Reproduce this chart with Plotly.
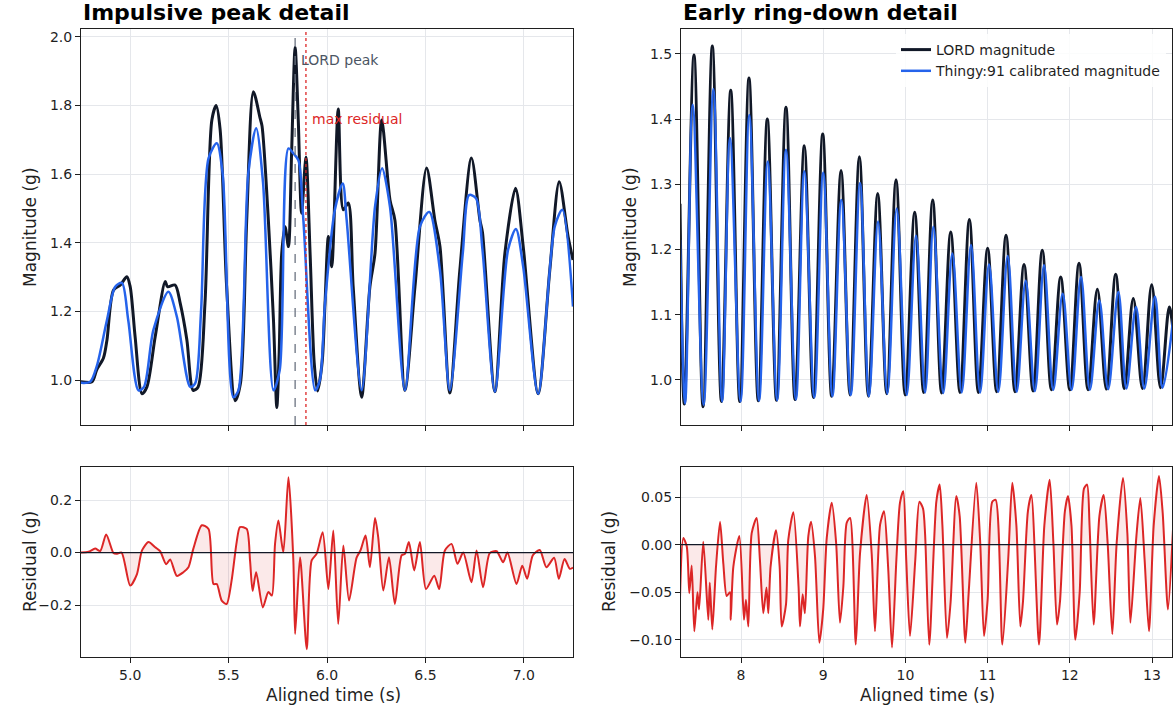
import plotly.graph_objects as go

# ---------------- data: impulsive peak detail (left) ----------------
lord_left_t = [4.746, 4.806, 4.83, 4.864, 4.882, 4.915, 4.95, 4.983, 5.0, 5.025, 5.06, 5.085, 5.127,
               5.178, 5.19, 5.228, 5.254, 5.288, 5.32, 5.345, 5.38, 5.415, 5.437, 5.457, 5.49, 5.533,
               5.56, 5.592, 5.626, 5.66, 5.67, 5.702, 5.728, 5.745, 5.757, 5.77, 5.787, 5.804, 5.82,
               5.838, 5.854, 5.871, 5.893, 5.914, 5.935, 5.952, 5.975, 5.99, 6.007, 6.024, 6.057, 6.083,
               6.108, 6.133, 6.176, 6.218, 6.244, 6.278, 6.32, 6.345, 6.396, 6.447, 6.506, 6.548, 6.574,
               6.624, 6.675, 6.734, 6.777, 6.79, 6.853, 6.904, 6.958, 6.997, 7.073, 7.132, 7.18, 7.225, 7.25]
lord_left_v = [0.995, 0.995, 1.03, 1.064, 1.117, 1.262, 1.277, 1.301, 1.272, 1.126, 0.96, 0.98, 1.126,
               1.287, 1.272, 1.277, 1.224, 1.117, 0.97, 0.98, 1.224, 1.758, 1.80, 1.73, 1.272, 0.94,
               0.99, 1.466, 1.84, 1.763, 1.74, 1.466, 1.175, 0.92, 1.08, 1.37, 1.447, 1.389, 1.66,
               1.97, 1.758, 1.486, 1.65, 1.37, 1.05, 0.968, 1.05, 1.224, 1.418, 1.33, 1.79, 1.496,
               1.516, 1.272, 0.95, 1.272, 1.37, 1.758, 1.525, 1.466, 0.97, 1.272, 1.618, 1.466, 1.389,
               0.962, 1.32, 1.647, 1.466, 1.43, 0.966, 1.37, 1.559, 1.389, 0.96, 1.32, 1.578, 1.418, 1.35]

thingy_left_t = [4.746, 4.797, 4.83, 4.882, 4.924, 4.958, 4.99, 5.042, 5.07, 5.118, 5.194, 5.237, 5.305,
                 5.33, 5.36, 5.398, 5.44, 5.47, 5.524, 5.55, 5.6, 5.64, 5.675, 5.728, 5.76, 5.804, 5.83,
                 5.855, 5.88, 5.94, 5.964, 5.99, 6.04, 6.08, 6.1, 6.176, 6.244, 6.28, 6.32, 6.396, 6.472,
                 6.52, 6.574, 6.624, 6.69, 6.722, 6.757, 6.79, 6.853, 6.92, 6.96, 6.997, 7.073, 7.157,
                 7.196, 7.25]
thingy_left_v = [0.992, 0.995, 1.04, 1.175, 1.272, 1.283, 1.175, 0.97, 0.98, 1.146, 1.257, 1.185, 0.98,
                 0.99, 1.2, 1.646, 1.69, 1.6, 0.95, 0.97, 1.602, 1.734, 1.575, 0.97, 1.03, 1.675, 1.66,
                 1.64, 1.466, 0.97, 1.0, 1.224, 1.496, 1.573, 1.466, 0.97, 1.505, 1.617, 1.505, 0.97, 1.447,
                 1.49, 1.32, 0.97, 1.37, 1.539, 1.53, 1.38, 0.966, 1.38, 1.44, 1.33, 0.96, 1.447,
                 1.496, 1.214]

resid_left_t = [4.746, 4.788, 4.822, 4.848, 4.878, 4.915, 4.93, 4.956, 5.0, 5.034, 5.06, 5.093, 5.127,
                5.152, 5.183, 5.203, 5.237, 5.27, 5.296, 5.321, 5.364, 5.398, 5.423, 5.44, 5.465, 5.49,
                5.515, 5.541, 5.558, 5.592, 5.609, 5.622, 5.64, 5.674, 5.702, 5.72, 5.736, 5.753, 5.778,
                5.804, 5.829, 5.838, 5.863, 5.897, 5.922, 5.947, 5.978, 6.007, 6.032, 6.057, 6.083, 6.112,
                6.15, 6.17, 6.196, 6.218, 6.244, 6.26, 6.286, 6.315, 6.345, 6.379, 6.396, 6.416, 6.443,
                6.472, 6.503, 6.545, 6.57, 6.599, 6.633, 6.663, 6.692, 6.734, 6.76, 6.793, 6.827, 6.862,
                6.895, 6.917, 6.963, 6.992, 7.017, 7.046, 7.081, 7.115, 7.154, 7.178, 7.207, 7.234, 7.25]
resid_left_v = [0.0, 0.003, 0.015, 0.006, 0.069, -0.002, -0.005, 0.0, -0.126, -0.083, 0.008, 0.04, 0.02,
                0.005, -0.045, -0.026, -0.089, -0.075, -0.056, 0.015, 0.104, 0.09, -0.12, -0.12, -0.183,
                -0.196, -0.108, 0.04, 0.097, 0.09, -0.031, -0.146, -0.075, -0.209, -0.15, -0.164, 0.033,
                0.122, 0.001, 0.287, -0.03, -0.31, -0.018, -0.368, -0.03, -0.005, 0.077, -0.139, 0.084,
                -0.272, 0.027, -0.183, -0.02, 0.008, 0.065, -0.056, 0.132, 0.06, -0.145, -0.018, -0.196,
                -0.011, -0.005, 0.04, -0.068, 0.04, -0.139, -0.088, -0.139, 0.008, 0.033, -0.043, 0.0,
                -0.113, 0.008, -0.132, -0.002, 0.005, -0.037, 0.0, -0.12, -0.05, -0.1, -0.01, 0.01,
                -0.056, -0.02, -0.1, -0.025, -0.062, -0.057]

lord_peak_t = 5.838
max_resid_t = 5.893

# ---------------- data: early ring-down detail (right) ----------------
lord_right_t = [7.258, 7.31, 7.428, 7.538, 7.651, 7.762, 7.875, 7.985, 8.097, 8.21, 8.32, 8.432, 8.547,
                8.657, 8.77, 8.88, 8.994, 9.103, 9.217, 9.327, 9.44, 9.55, 9.663, 9.773, 9.886, 9.997,
                10.113, 10.222, 10.332, 10.44, 10.551, 10.664, 10.778, 10.888, 11.0, 11.11, 11.224,
                11.333, 11.443, 11.553, 11.665, 11.776, 11.889, 12.0, 12.112, 12.222, 12.335, 12.445,
                12.558, 12.664, 12.772, 12.884, 12.996, 13.104, 13.21, 13.26]
lord_right_v = [1.27, 0.963, 1.498, 0.959, 1.512, 0.967, 1.444, 0.967, 1.463, 0.968, 1.40, 0.969, 1.418,
                0.970, 1.359, 0.973, 1.377, 0.975, 1.321, 0.977, 1.342, 0.975, 1.286, 0.979, 1.307, 0.977,
                1.257, 0.981, 1.276, 0.980, 1.227, 0.981, 1.246, 0.981, 1.202, 0.982, 1.222,
                0.982, 1.177, 0.983, 1.199, 0.985, 1.158, 0.985, 1.179, 0.985, 1.139, 0.986,
                1.162, 0.987, 1.125, 0.987, 1.146, 0.988, 1.112, 1.07]

thingy_right_t = [7.258, 7.32, 7.412, 7.545, 7.664, 7.77, 7.866, 7.995, 8.101, 8.22, 8.325, 8.44, 8.547,
                  8.668, 8.77, 8.892, 9.0, 9.112, 9.22, 9.335, 9.448, 9.557, 9.667, 9.78, 9.894, 10.016,
                  10.129, 10.24, 10.34, 10.46, 10.571, 10.685, 10.798, 10.908, 11.017, 11.13, 11.244,
                  11.353, 11.463, 11.575, 11.686, 11.798, 11.913, 12.022, 12.136, 12.244, 12.359, 12.466,
                  12.59, 12.688, 12.805, 12.906, 13.036, 13.128, 13.26]
thingy_right_v = [1.215, 0.964, 1.422, 0.962, 1.446, 0.967, 1.371, 0.967, 1.406, 0.968, 1.335, 0.969, 1.353,
                  0.970, 1.32, 0.973, 1.318, 0.975, 1.276, 0.977, 1.302, 0.975, 1.243, 0.979, 1.263, 0.977,
                  1.221, 0.981, 1.235, 0.980, 1.194, 0.981, 1.207, 0.981, 1.177, 0.982, 1.19,
                  0.982, 1.152, 0.983, 1.176, 0.985, 1.132, 0.985, 1.158, 0.985, 1.122, 0.986,
                  1.135, 0.987, 1.112, 0.987, 1.128, 0.988, 1.097]

resid_right_t = [7.258, 7.298, 7.34, 7.371, 7.4, 7.432, 7.47, 7.49, 7.541, 7.602, 7.62, 7.651, 7.696,
                 7.745, 7.785, 7.826, 7.866, 7.875, 7.907, 7.98, 8.036, 8.06, 8.089, 8.13, 8.19, 8.23,
                 8.271, 8.31, 8.332, 8.36, 8.426, 8.47, 8.495, 8.547, 8.575, 8.637, 8.7, 8.718, 8.75,
                 8.777, 8.819, 8.852, 8.9, 8.953, 9.0, 9.043, 9.104, 9.157, 9.204, 9.245, 9.286, 9.327,
                 9.396, 9.448, 9.529, 9.59, 9.63, 9.692, 9.74, 9.79, 9.837, 9.89, 9.934, 9.974, 10.01,
                 10.056, 10.12, 10.17, 10.214, 10.24, 10.29, 10.376, 10.417, 10.45, 10.506, 10.55, 10.619,
                 10.66, 10.729, 10.77, 10.862, 10.91, 10.956, 11.0, 11.057, 11.098, 11.179, 11.25, 11.3,
                 11.35, 11.398, 11.43, 11.49, 11.532, 11.625, 11.69, 11.755, 11.8, 11.844, 11.88, 11.94,
                 11.978, 12.02, 12.067, 12.12, 12.173, 12.21, 12.24, 12.29, 12.36, 12.412, 12.46, 12.517,
                 12.57, 12.647, 12.7, 12.737, 12.81, 12.858, 12.91, 12.963, 13.02, 13.085, 13.13, 13.194,
                 13.255]
resid_right_v = [-0.056, 0.007, -0.002, -0.051, -0.022, -0.091, -0.05, -0.068, 0.003, -0.079, -0.04, -0.089,
                 -0.023, 0.024, -0.02, -0.054, -0.05, -0.079, -0.023, 0.009, -0.079, -0.058, -0.086, 0.012,
                 0.028, -0.016, -0.072, -0.045, -0.072, -0.023, 0.015, -0.023, -0.086, -0.063, 0.005, 0.034,
                 -0.044, -0.086, -0.052, -0.072, 0.009, 0.024, -0.012, -0.103, -0.068, 0.007, 0.044, 0.002,
                 -0.082, -0.044, 0.023, 0.028, -0.105, -0.009, 0.052, -0.01, -0.091, 0.021, 0.035, -0.024,
                 -0.108, -0.016, 0.044, 0.056, -0.016, -0.096, -0.016, 0.045, 0.038, 0.01, -0.105, 0.045,
                 0.063, 0.02, -0.098, -0.06, 0.051, 0.03, -0.103, -0.05, 0.065, 0.002, -0.096, -0.058,
                 0.045, 0.047, -0.105, -0.016, 0.065, 0.02, -0.086, -0.06, 0.035, 0.052, -0.105, 0.02,
                 0.068, 0.002, -0.084, -0.06, 0.035, 0.051, 0.02, -0.1, -0.05, 0.059, 0.063, 0.02, -0.084,
                 0.03, 0.052, 0.002, -0.094, 0.002, 0.07, 0.012, -0.082, 0.009, 0.049, -0.016, -0.091,
                 0.02, 0.072, 0.033, -0.068, 0.016]

# ---------------- styling ----------------
C_LORD = "#111827"
C_THINGY = "#2563eb"
C_RES = "#dc2626"
C_GRID = "#e5e7eb"
FONT = "DejaVu Sans"

fig = go.Figure()

def line(x, y, color, width, xa, ya, name=None, show=False, fill=None, fillcolor=None, smooth=0.8):
    fig.add_trace(go.Scatter(
        x=x, y=y, mode="lines", name=name, showlegend=show,
        line=dict(color=color, width=width, shape="spline", smoothing=smooth),
        xaxis=xa, yaxis=ya, fill=fill, fillcolor=fillcolor, hoverinfo="skip"))

# left magnitude
line(lord_left_t, lord_left_v, C_LORD, 3, "x", "y")
line(thingy_left_t, thingy_left_v, C_THINGY, 2.5, "x", "y")
# right magnitude
line(lord_right_t, lord_right_v, C_LORD, 3, "x2", "y2", name="LORD magnitude", show=True, smooth=1.0)
line(thingy_right_t, thingy_right_v, C_THINGY, 2.5, "x2", "y2", name="Thingy:91 calibrated magnitude",
     show=True, smooth=1.0)
# residuals
line(resid_left_t, resid_left_v, C_RES, 2, "x3", "y3", fill="tozeroy", fillcolor="rgba(220,38,38,0.10)", smooth=0.7)
line(resid_right_t, resid_right_v, C_RES, 2, "x4", "y4", fill="tozeroy", fillcolor="rgba(220,38,38,0.10)", smooth=0.7)

W, H = 1173, 709
def px(x):
    return x / W
def py(y):
    return 1 - y / H

left_dom = [px(81), px(573)]
right_dom = [px(681), px(1172)]
top_dom = [py(425), py(29)]
bot_dom = [py(657), py(467)]

axis_common = dict(showgrid=True, gridcolor=C_GRID, gridwidth=1, showline=True, linecolor="#1f1f1f",
                   linewidth=1, mirror=True, ticks="outside", ticklen=5, tickcolor="#1f1f1f",
                   zeroline=False, automargin=False,
                   tickfont=dict(family=FONT, size=14, color="#1f1f1f"))

fig.update_layout(
    width=W, height=H, margin=dict(l=0, r=0, t=0, b=0),
    paper_bgcolor="white", plot_bgcolor="white",
    font=dict(family=FONT, color="#1f1f1f"),
    xaxis=dict(domain=left_dom, anchor="y", range=[4.75, 7.25], tick0=5, dtick=0.5,
               showticklabels=False, **axis_common),
    yaxis=dict(domain=top_dom, anchor="x", range=[0.869, 2.023], tick0=1.0, dtick=0.2,
               tickformat=".1f", **axis_common),
    xaxis2=dict(domain=right_dom, anchor="y2", range=[7.27, 13.243], tick0=8, dtick=1,
                showticklabels=False, **axis_common),
    yaxis2=dict(domain=top_dom, anchor="x2", range=[0.931, 1.538], tick0=1.0, dtick=0.1,
                tickformat=".1f", **axis_common),
    xaxis3=dict(domain=left_dom, anchor="y3", range=[4.75, 7.25], tick0=5, dtick=0.5,
                tickformat=".1f", **axis_common),
    yaxis3=dict(domain=bot_dom, anchor="x3", range=[-0.398, 0.326], tickvals=[-0.2, 0.0, 0.2],
                tickformat=".1f", **axis_common),
    xaxis4=dict(domain=right_dom, anchor="y4", range=[7.27, 13.243], tick0=8, dtick=1,
                tickformat="d", **axis_common),
    yaxis4=dict(domain=bot_dom, anchor="x4", range=[-0.118, 0.0815], tickvals=[-0.1, -0.05, 0.0, 0.05],
                tickformat=".2f", **axis_common),
    legend=dict(x=px(1166), y=py(34), xanchor="right", yanchor="top", bgcolor="rgba(255,255,255,0.85)",
                borderwidth=0, font=dict(family=FONT, size=14, color="#1f1f1f"), tracegroupgap=0),
)

shapes = [
    dict(type="line", xref="x", yref="y domain", x0=lord_peak_t, x1=lord_peak_t, y0=0, y1=1,
         line=dict(color="#6b7280", width=1.3, dash="dash")),
    dict(type="line", xref="x", yref="y domain", x0=max_resid_t, x1=max_resid_t, y0=0, y1=1,
         line=dict(color=C_RES, width=1.3, dash="dot")),
    dict(type="line", xref="x3 domain", yref="y3", x0=0, x1=1, y0=0, y1=0,
         line=dict(color=C_LORD, width=1.3)),
    dict(type="line", xref="x4 domain", yref="y4", x0=0, x1=1, y0=0, y1=0,
         line=dict(color=C_LORD, width=1.3)),
]
fig.update_layout(shapes=shapes)

def lab(text, x, y, size=17, angle=0):
    return dict(text=text, x=px(x), y=py(y), xref="paper", yref="paper", textangle=angle,
                xanchor="center", yanchor="middle", showarrow=False, font=dict(family=FONT, size=size))

ann = [
    dict(text="<b>Impulsive peak detail</b>", x=px(81), y=py(13), xref="paper", yref="paper",
         xanchor="left", yanchor="middle", showarrow=False, font=dict(family=FONT, size=22, color="#000")),
    dict(text="<b>Early ring-down detail</b>", x=px(681), y=py(13), xref="paper", yref="paper",
         xanchor="left", yanchor="middle", showarrow=False, font=dict(family=FONT, size=22, color="#000")),
    dict(text="LORD peak", x=lord_peak_t, y=1.933, xref="x", yref="y", xanchor="left", xshift=4,
         yanchor="middle", showarrow=False, font=dict(family=FONT, size=14, color="#4b5563")),
    dict(text="max residual", x=max_resid_t, y=1.761, xref="x", yref="y", xanchor="left", xshift=4,
         yanchor="middle", showarrow=False, font=dict(family=FONT, size=14, color=C_RES)),
    lab("Magnitude (g)", 30, 227, angle=-90),
    lab("Magnitude (g)", 630, 227, angle=-90),
    lab("Residual (g)", 30, 562, angle=-90),
    lab("Residual (g)", 609, 562, angle=-90),
    lab("Aligned time (s)", 333, 695),
    lab("Aligned time (s)", 927, 695),
]
fig.update_layout(annotations=ann)

fig.write_html("out.html", config={"displayModeBar": False},
               post_script="document.body.style.margin='0';document.body.style.overflow='hidden';")
